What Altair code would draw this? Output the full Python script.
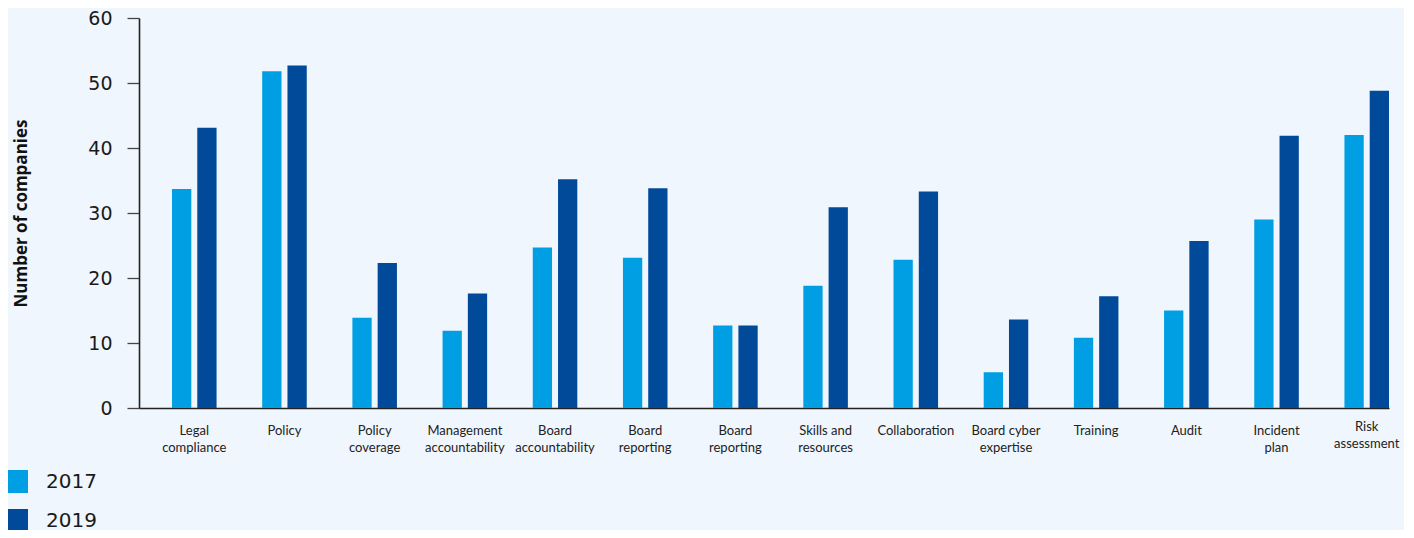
import altair as alt
import pandas as pd

categories = [
    ["Legal", "compliance"],
    ["Policy"],
    ["Policy", "coverage"],
    ["Management", "accountability"],
    ["Board", "accountability"],
    ["Board", "reporting"],
    ["Board", "reporting"],
    ["Skills and", "resources"],
    ["Collaboration"],
    ["Board cyber", "expertise"],
    ["Training"],
    ["Audit"],
    ["Incident", "plan"],
    ["Risk", "assessment"],
]
years = ["2017", "2019"]
values_2017 = [33.7, 51.8, 13.9, 11.9, 24.7, 23.1, 12.7, 18.8, 22.8, 5.5, 10.8, 15.0, 29.0, 42.0]
values_2019 = [43.1, 52.7, 22.3, 17.6, 35.2, 33.8, 12.7, 30.9, 33.3, 13.6, 17.2, 25.7, 41.9, 48.8]
y_ticks = [0, 10, 20, 30, 40, 50, 60]
colors = ["#009FE3", "#004A99"]

rows = []
for i in range(len(categories)):
    rows.append({"idx": i, "year": years[0], "value": values_2017[i]})
    rows.append({"idx": i, "year": years[1], "value": values_2019[i]})
df = pd.DataFrame(rows)


def js_label(lines):
    if len(lines) == 1:
        return "'" + lines[0] + "'"
    return "[" + ",".join("'" + s + "'" for s in lines) + "]"


label_expr = "[" + ",".join(js_label(c) for c in categories) + "][datum.value]"

chart = (
    alt.Chart(df)
    .mark_bar()
    .encode(
        x=alt.X(
            "idx:O",
            title=None,
            scale=alt.Scale(paddingInner=0.506, paddingOuter=0.183, align=1),
            axis=alt.Axis(
                labelExpr=label_expr,
                labelAngle=0,
                labelFont="Lato",
                labelFontSize=13,
                labelColor="#222222",
                labelLineHeight=17,
                labelBaseline="top",
                labelPadding={"condition": {"test": "datum.value == 13", "value": 12}, "value": 16},
                ticks=False,
                domainColor="#222222",
                domainWidth=1.6,
            ),
        ),
        xOffset=alt.XOffset("year:N", scale=alt.Scale(paddingInner=0.237, paddingOuter=0)),
        y=alt.Y(
            "value:Q",
            scale=alt.Scale(domain=[0, 60], nice=False),
            axis=alt.Axis(
                title="Number of companies",
                values=y_ticks,
                grid=False,
                labelFont="DejaVu Sans",
                labelFontSize=19,
                labelColor="#1a1a1a",
                labelPadding=15,
                tickSize=12,
                tickColor="#444444",
                tickWidth=1.3,
                domainColor="#222222",
                domainWidth=1.6,
                titleFont="Open Sans",
                titleFontWeight="bold",
                titleFontSize=17,
                titleColor="#111111",
                titleAngle=-90,
                titleX=-118,
                titleY=195,
                titleAlign="center",
                titleBaseline="middle",
            ),
        ),
        color=alt.Color(
            "year:N",
            scale=alt.Scale(domain=years, range=colors),
            legend=alt.Legend(
                title=None,
                orient="none",
                legendX=-134,
                legendY=452,
                symbolType="square",
                symbolSize=529,
                symbolStrokeWidth=0,
                symbolOpacity=1,
                labelFont="DejaVu Sans",
                labelFontSize=20,
                labelColor="#1a1a1a",
                labelOffset=18,
                rowPadding=16,
                padding=0,
                offset=0,
            ),
        ),
    )
    .properties(
        width=1250,
        height=390,
        background="#EFF6FD",
        autosize=alt.AutoSizeParams(type="none"),
        padding={"left": 131, "top": 10, "right": 15, "bottom": 122},
    )
    .configure_view(stroke=None)
)

chart.save("out.html", embed_options={"renderer": "svg", "actions": False})
